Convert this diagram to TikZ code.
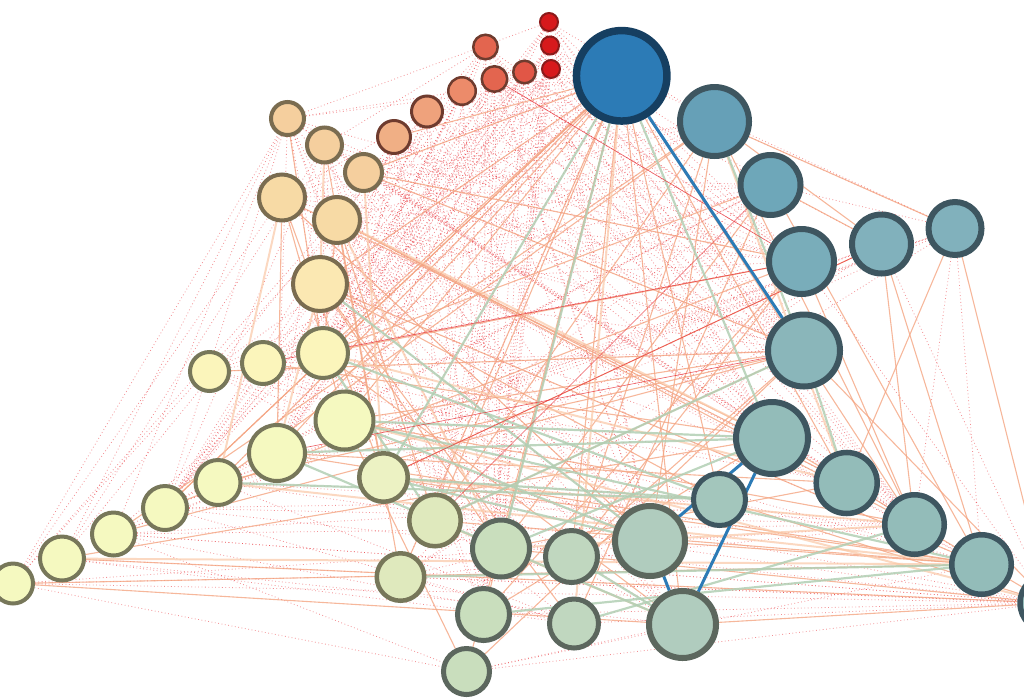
\documentclass[tikz,border=0pt]{standalone}
\definecolor{cB}{HTML}{2C7BB6}
\definecolor{bB}{HTML}{163F61}
\definecolor{cR}{HTML}{D7191C}
\definecolor{bR}{HTML}{8B1A1A}
\definecolor{cR4}{HTML}{E3654F}
\definecolor{cR6}{HTML}{E15646}
\definecolor{cO1}{HTML}{EC8B6A}
\definecolor{cO2}{HTML}{EFA27C}
\definecolor{cO3}{HTML}{F0AF85}
\definecolor{bO}{HTML}{6E3B2E}
\definecolor{cP}{HTML}{F5CF9E}
\definecolor{cP4}{HTML}{F7DAA5}
\definecolor{cP6}{HTML}{FBE8B2}
\definecolor{bP}{HTML}{7A6C50}
\definecolor{cY}{HTML}{FBF5BB}
\definecolor{cY4}{HTML}{F5F9C0}
\definecolor{bY}{HTML}{77775A}
\definecolor{cG1}{HTML}{ECF2C3}
\definecolor{cG2}{HTML}{DFE9BD}
\definecolor{cG4}{HTML}{C9DEBD}
\definecolor{cG5}{HTML}{C0D7BF}
\definecolor{cG9}{HTML}{B0CCBE}
\definecolor{bG}{HTML}{5C675E}
\definecolor{cT1}{HTML}{66A0B7}
\definecolor{cT2}{HTML}{6EA7B9}
\definecolor{cT3}{HTML}{79ADBA}
\definecolor{cT5}{HTML}{81B1BC}
\definecolor{cT6}{HTML}{8AB6BA}
\definecolor{cT7}{HTML}{93BCB9}
\definecolor{cT8}{HTML}{A3C6BC}
\definecolor{bT}{HTML}{3E5660}
\definecolor{cOr}{HTML}{F4A582}
\definecolor{cPe}{HTML}{FAC8A6}
\definecolor{cGe}{HTML}{B2CFB4}
\definecolor{cRd}{HTML}{E8333A}
\pgfdeclarelayer{edges}
\pgfsetlayers{edges,main}

\begin{document}
\begin{tikzpicture}[x=1pt,y=-1pt,
  vx/.style={circle,inner sep=0pt},
  vred/.style={vx,line width=2pt,draw=bR,fill=cR},
  vorg/.style={vx,line width=2.5pt,draw=bO},
  vpch/.style={vx,line width=4pt,draw=bP},
  vyel/.style={vx,line width=4pt,draw=bY},
  vgrn/.style={vx,line width=5pt,draw=bG},
  vtea/.style={vx,line width=6pt,draw=bT},
  oe/.style={draw=cOr,line width=1.1pt,opacity=.8},
  pe/.style={draw=cPe,line width=2pt,opacity=.7},
  ge/.style={draw=cGe,line width=2.2pt,opacity=.85},
  rs/.style={draw=cRd,line width=.6pt,opacity=.8},
  rd/.style={draw=cRd,line width=.8pt,dash pattern=on .8pt off 2.6pt,opacity=.55},
  be/.style={draw=cB,line width=3pt}]
\useasboundingbox (0,0) rectangle (1024,697);

\node[vx,line width=7.5pt,draw=bB,fill=cB,minimum size=90.5pt] (B) at (621.7,75.8) {};

\node[vred,minimum size=18pt] (r1) at (549,22) {};
\node[vred,minimum size=18pt] (r2) at (550,45.5) {};
\node[vred,minimum size=18pt] (r3) at (551,69) {};
\node[vorg,fill=cR4,minimum size=24.5pt] (r4) at (485.5,47) {};
\node[vorg,fill=cR4,minimum size=25.5pt] (r5) at (494.5,79) {};
\node[vorg,fill=cR6,minimum size=22.5pt] (r6) at (524.5,72) {};
\node[vorg,fill=cO1,minimum size=27.5pt] (o1) at (462,91) {};
\node[vorg,line width=3pt,fill=cO2,minimum size=31pt] (o2) at (427,111.5) {};
\node[vorg,line width=3pt,fill=cO3,minimum size=33pt] (o3) at (394,137) {};

\node[vpch,fill=cP,minimum size=33pt] (p1) at (287.5,118.5) {};
\node[vpch,fill=cP,minimum size=35pt] (p2) at (324.5,145) {};
\node[vpch,fill=cP,minimum size=37pt] (p3) at (363.5,172.5) {};
\node[vpch,fill=cP4,minimum size=46pt] (p4) at (282,197.5) {};
\node[vpch,fill=cP4,minimum size=46pt] (p5) at (337,220) {};
\node[vpch,fill=cP6,minimum size=54pt] (p6) at (320,284) {};

\node[vyel,fill=cY,minimum size=39pt] (y1) at (209.5,371.5) {};
\node[vyel,fill=cY,minimum size=42pt] (y2) at (263,363) {};
\node[vyel,fill=cY,minimum size=50pt] (y3) at (323,353) {};
\node[vyel,fill=cY4,minimum size=58pt] (y4) at (344.5,420.5) {};
\node[vyel,fill=cY4,minimum size=56pt] (y5) at (277,453) {};
\node[vyel,fill=cY4,minimum size=45pt] (y6) at (218,482.5) {};
\node[vyel,fill=cY4,minimum size=44pt] (y7) at (165,508) {};
\node[vyel,fill=cY4,minimum size=43pt] (y8) at (113.5,534) {};
\node[vyel,fill=cY4,minimum size=44pt] (y9) at (62,558.5) {};
\node[vyel,fill=cY4,minimum size=40pt] (y10) at (13,583.5) {};

\node[vyel,line width=4.5pt,fill=cG1,minimum size=48.5pt] (g1) at (383.5,477.5) {};
\node[vyel,line width=4.5pt,fill=cG2,minimum size=51.5pt] (g2) at (435,520.5) {};
\node[vyel,line width=4.5pt,fill=cG2,minimum size=47.5pt] (g3) at (400.5,577) {};
\node[vgrn,fill=cG4,minimum size=57pt] (g4) at (501,548.5) {};
\node[vgrn,fill=cG5,minimum size=52pt] (g5) at (571.5,556.5) {};
\node[vgrn,fill=cG4,minimum size=52pt] (g6) at (483.5,614.5) {};
\node[vgrn,fill=cG5,minimum size=49pt] (g7) at (574,623.5) {};
\node[vgrn,fill=cG4,minimum size=46pt] (g8) at (466.5,671.5) {};
\node[vgrn,line width=6pt,fill=cG9,minimum size=70pt] (g9) at (650,541) {};
\node[vgrn,line width=6pt,fill=cG9,minimum size=67pt] (g10) at (682.5,624.5) {};

\node[vtea,fill=cT1,minimum size=69pt] (t1) at (714.5,121.5) {};
\node[vtea,fill=cT2,minimum size=60pt] (t2) at (770.5,185) {};
\node[vtea,fill=cT3,minimum size=65pt] (t3) at (801.5,261.5) {};
\node[vtea,fill=cT5,minimum size=59pt] (t4) at (881.5,244) {};
\node[vtea,fill=cT5,minimum size=53pt] (t5) at (955,228.5) {};
\node[vtea,fill=cT6,minimum size=72pt] (t6) at (804,350.5) {};
\node[vtea,fill=cT7,minimum size=72pt] (t7) at (772,438) {};
\node[vtea,line width=5pt,fill=cT8,minimum size=52pt] (t8) at (719.5,499.5) {};
\node[vtea,line width=5.5pt,fill=cT7,minimum size=61pt] (t9) at (846.7,483) {};
\node[vtea,line width=5.5pt,fill=cT7,minimum size=59.5pt] (t10) at (914.5,524.5) {};
\node[vtea,line width=5.5pt,fill=cT7,minimum size=59.5pt] (t11) at (981.5,564.5) {};
\node[vtea,line width=5.5pt,fill=cT7,minimum size=58pt] (t12) at (1049,603) {};

\begin{pgfonlayer}{edges}
\foreach \a in {r1,r2,r3,r4,r5,r6,o1,o2,o3,p1,p2}
  \foreach \b in {y5,y4,g2,g4,g9,t7,t6,t3,y3,g6,t10,y7}
    \draw[rd] (\a) -- (\b);
\foreach \a in {p3,p4,p5,p6,y1,y2}
  \foreach \b in {t1,t2,t3,t6,t9,g9,g10,t11,B}
    \draw[rd] (\a) -- (\b);
\foreach \a in {y6,y7,y8,g1,g3}
  \foreach \b in {t2,t4,t5,t8,t10,t12,g7,B}
    \draw[rd] (\a) -- (\b);
\foreach \a/\b in {y10/p1,y10/p4,y9/p1,y10/o1,y9/p2,y8/p1,y10/r4,y9/o2,
  y10/t12,y10/t11,y9/t12,y10/g8,y9/g10,y8/g8,g8/g10,g8/t11,g8/t12,g3/t12,
  g6/t12,g7/t12,y10/t10,y8/t12,y9/g7,t5/t10,t5/t11,t4/t12,t3/t12,t1/t5,
  p1/B,p1/r1,p1/o1,p2/r4,p4/o2,B/t5,t2/t5,r1/t1,r2/t2,r3/t4}
  \draw[rd] (\a) -- (\b);

\foreach \a/\b in {B/y4,B/y5,B/g2,B/g6,B/g5,B/g8,B/y6,B/y3,B/p6,B/g10,B/t9,
  B/t10,B/o3,B/y7,B/g3,B/t8,t1/t5,t1/t4,t1/t10,t1/g9,t2/t11,t2/t4,t3/t10,
  t3/g5,t4/t10,t4/t11,t5/t12,t5/t9,t6/t12,p3/B,p3/t3,p3/t6,p4/y5,p4/g1,
  p4/y4,p4/t7,p5/y3,p5/t9,p5/g2,p5/t10,p6/t11,p6/g4,p6/t8,p2/g1,p1/y3,
  y3/t3,y3/t2,y4/t6,y4/t10,y5/t9,y5/t11,y6/t6,y6/t1,y7/t3,y7/B,y8/t1,
  y8/t6,y9/t7,y9/t12,y10/t11,y10/g10,y2/t7,y1/t6,g1/t4,g2/t6,g2/t1,g4/t2,
  g4/t9,g5/t1,g5/t6,g6/t3,g6/t7,g7/t2,g7/p6,g8/t6,g8/y4,g3/p5,g9/p4,
  g9/t11,g10/t12,g10/y3,t7/t12,t8/t12,g4/t12,g2/t11,g1/t11}
  \draw[oe] (\a) -- (\b);
\foreach \a/\b in {p2/p6,p3/g1,p4/y6,p5/g4,p6/y5,y3/t9,y4/t12,y6/t11,
  y9/t11,g1/t10,g2/g10,g4/t10,p5/t7,B/g7,t1/t9}
  \draw[pe] (\a) -- (\b);
\foreach \a/\b in {B/g4,B/t7,B/g1,t1/t6,t6/t9,y4/t7,y5/t7,y3/t8,y4/g9,
  y5/g10,g1/t8,g1/g9,g2/t6,g3/t11,g4/t7,g6/t11,g7/t10,y6/t8,g5/g10,
  y4/t11,p6/g9,y3/g2}
  \draw[ge] (\a) -- (\b);
\foreach \a/\b in {t2/g2,r5/t3,t6/y5,t4/g1,t3/y2}
  \draw[rs] (\a) -- (\b);
\foreach \a/\b in {B/t6,t7/g9,t7/g10,g9/g10}
  \draw[be] (\a) -- (\b);
\end{pgfonlayer}
\end{tikzpicture}
\end{document}
